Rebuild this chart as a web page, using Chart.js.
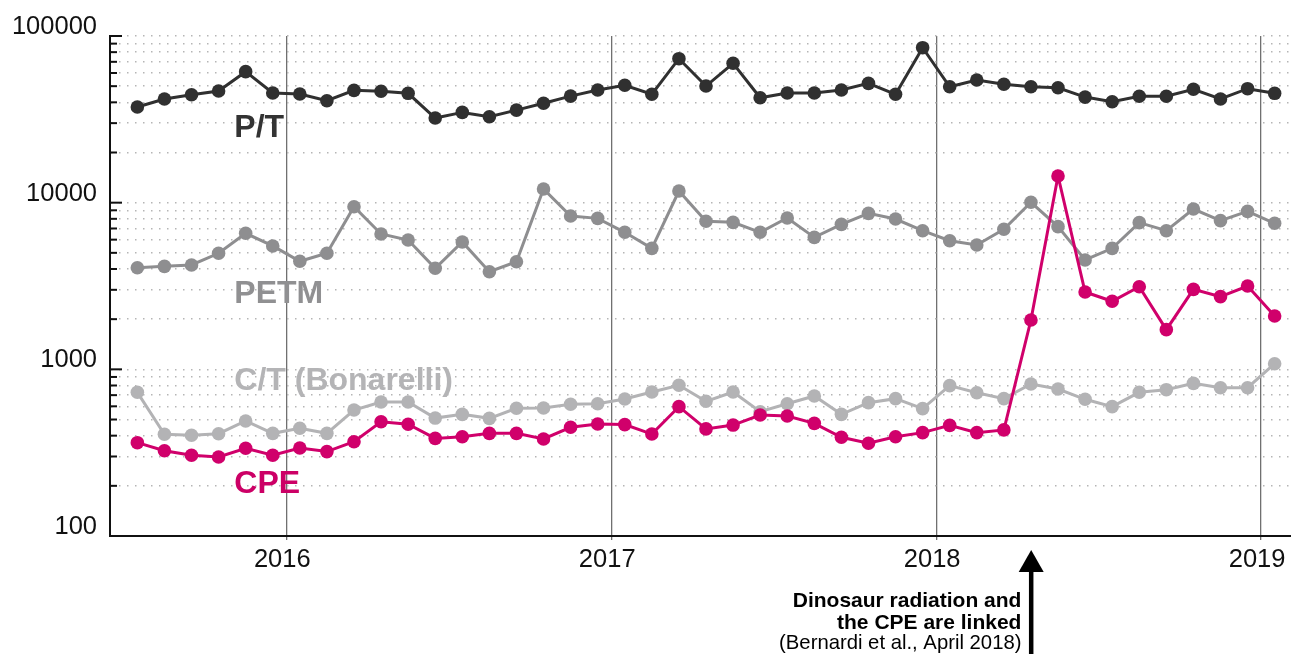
<!DOCTYPE html>
<html>
<head>
<meta charset="utf-8">
<style>
  html, body { margin: 0; padding: 0; background: #ffffff; overflow: hidden; }
  canvas { display: block; }
</style>
<script src="https://cdn.jsdelivr.net/npm/chart.js@4.4.1/dist/chart.umd.min.js"></script>
</head>
<body>
<canvas id="chart" width="1291" height="654"></canvas>
<script>
// Monthly observations, July 2015 - January 2019
const months = [
  '2015-07','2015-08','2015-09','2015-10','2015-11','2015-12',
  '2016-01','2016-02','2016-03','2016-04','2016-05','2016-06',
  '2016-07','2016-08','2016-09','2016-10','2016-11','2016-12',
  '2017-01','2017-02','2017-03','2017-04','2017-05','2017-06',
  '2017-07','2017-08','2017-09','2017-10','2017-11','2017-12',
  '2018-01','2018-02','2018-03','2018-04','2018-05','2018-06',
  '2018-07','2018-08','2018-09','2018-10','2018-11','2018-12',
  '2019-01'
];

const ptValues = [
  37500, 41900, 44400, 46800, 61100, 45500,
  44900, 40900, 47200, 46600, 45300, 32200,
  34800, 32800, 35900, 39500, 43600, 47400,
  50600, 44700, 73100, 50100, 68600, 42600,
  45500, 45500, 47400, 52000, 44700, 85100,
  49600, 54500, 51300, 49600, 48900, 43000,
  40300, 43500, 43500, 47900, 41900, 48300,
  45300
];

const petmValues = [
  4070, 4150, 4230, 4970, 6550, 5500,
  4450, 4970, 9460, 6490, 5970, 4040,
  5810, 3850, 4420, 12080, 8320, 8050,
  6640, 5320, 11750, 7730, 7620, 6640,
  8090, 6190, 7410, 8630, 7980, 6790,
  5910, 5570, 6920, 10050, 7180, 4530,
  5320, 7590, 6790, 9160, 7800, 8870,
  7520
];

const ctValues = [
  728, 408, 402, 411, 490, 413,
  443, 413, 570, 637, 637, 510,
  537, 508, 584, 586, 617, 622,
  664, 731, 802, 643, 731, 557,
  622, 692, 537, 631, 667, 581,
  798, 724, 667, 817, 762, 661,
  597, 728, 755, 824, 776, 776,
  1081
];

const cpeValues = [
  363, 325, 305, 298, 336, 305,
  337, 321, 368, 485, 468, 385,
  394, 413, 413, 382, 449, 470,
  466, 409, 597, 439, 463, 532,
  525, 474, 391, 360, 394, 417,
  461, 417, 433, 1977, 14450, 2910,
  2560, 3130, 1730, 3020, 2730, 3160,
  2090
];

const yearTicks = [2016, 2017, 2018, 2019];
const yearLabels = ['2016', '2017', '2018', '2019'];
const decadeTicks = [100, 1000, 10000, 100000];
const decadeLabels = ['100', '1000', '10000', '100000'];

const eventMonth = '2018-04';
const eventLines = ['Dinosaur radiation and', 'the CPE are linked', '(Bernardi et al., April 2018)'];

const FONT = '"Liberation Sans", Arial, Helvetica, sans-serif';

// month string -> decimal year at the middle of that month
function monthToYear(m) {
  const parts = m.split('-').map(Number);
  return parts[0] + (parts[1] - 0.5) / 12;
}

function toPoints(values) {
  return values.map((v, i) => ({ x: monthToYear(months[i]), y: v }));
}

// log-axis grid values: 1..9 within each decade, plus the top decade
const yGridValues = [];
for (let d = 0; d < decadeTicks.length - 1; d++) {
  for (let k = 1; k <= 9; k++) yGridValues.push(decadeTicks[d] * k);
}
yGridValues.push(decadeTicks[decadeTicks.length - 1]);

const seriesStyle = [
  { name: 'CPE', values: cpeValues, color: '#d0006b', text: '#cc0066', labelX: 2015.84, labelY: 181 },
  { name: 'C/T (Bonarelli)', values: ctValues, color: '#b3b3b5', text: '#b4b4b6', labelX: 2015.84, labelY: 752 },
  { name: 'PETM', values: petmValues, color: '#8e8e90', text: '#909092', labelX: 2015.84, labelY: 2500 },
  { name: 'P/T', values: ptValues, color: '#303030', text: '#333333', labelX: 2015.84, labelY: 24800 }
];

const datasets = seriesStyle.map(s => ({
  label: s.name,
  data: toPoints(s.values),
  borderColor: s.color,
  backgroundColor: s.color,
  pointBackgroundColor: s.color,
  pointBorderColor: s.color,
  pointBorderWidth: 0,
  pointRadius: 6.8,
  borderWidth: 3,
  tension: 0,
  clip: false
}));

// short inner tick marks on the value axis
const innerTicks = {
  id: 'innerTicks',
  afterDraw(chart) {
    const y = chart.scales.y;
    const ctx = chart.ctx;
    const left = chart.chartArea.left;
    ctx.save();
    ctx.strokeStyle = '#111111';
    ctx.lineWidth = 2;
    yGridValues.forEach(v => {
      const py = y.getPixelForValue(v);
      const len = decadeTicks.includes(v) ? 12 : 7;
      ctx.beginPath();
      ctx.moveTo(left, py);
      ctx.lineTo(left + len, py);
      ctx.stroke();
    });
    ctx.restore();
  }
};

// series names written beside their lines
const seriesNames = {
  id: 'seriesNames',
  afterDatasetsDraw(chart) {
    const { ctx, scales: { x, y } } = chart;
    ctx.save();
    ctx.font = 'bold 32px ' + FONT;
    ctx.textAlign = 'left';
    ctx.textBaseline = 'alphabetic';
    seriesStyle.forEach(s => {
      ctx.fillStyle = s.text;
      ctx.fillText(s.name, x.getPixelForValue(s.labelX), y.getPixelForValue(s.labelY));
    });
    ctx.restore();
  }
};

// arrow and note below the time axis
const eventNote = {
  id: 'eventNote',
  afterDraw(chart) {
    const { ctx, scales: { x }, chartArea } = chart;
    const px = x.getPixelForValue(monthToYear(eventMonth));
    const tip = chartArea.bottom + 14;
    ctx.save();
    ctx.fillStyle = '#000000';
    ctx.fillRect(px - 2, tip + 18, 4.5, chart.height - tip);
    ctx.beginPath();
    ctx.moveTo(px + 0.25, tip);
    ctx.lineTo(px + 12.75, tip + 22);
    ctx.lineTo(px - 12.25, tip + 22);
    ctx.closePath();
    ctx.fill();

    ctx.textAlign = 'right';
    ctx.textBaseline = 'alphabetic';
    const tx = px - 9.5;
    ctx.font = 'bold 21px ' + FONT;
    ctx.fillText(eventLines[0], tx, tip + 57);
    ctx.fillText(eventLines[1], tx, tip + 78.5);
    ctx.font = '20.3px ' + FONT;
    ctx.fillText(eventLines[2], tx, tip + 98.5);
    ctx.restore();
  }
};

new Chart(document.getElementById('chart'), {
  type: 'line',
  data: { datasets },
  options: {
    responsive: false,
    animation: false,
    devicePixelRatio: 1,
    layout: { autoPadding: false, padding: { top: 36, right: 0, left: 0, bottom: 0 } },
    plugins: { legend: { display: false }, tooltip: { enabled: false } },
    scales: {
      x: {
        type: 'linear',
        min: 2015.4575,
        max: 2019.092,
        afterBuildTicks: s => { s.ticks = yearTicks.map(v => ({ value: v })); },
        afterFit: s => { s.height = 118; s.paddingLeft = 0; s.paddingRight = 0; },
        grid: { color: '#707070', lineWidth: 1.3, drawTicks: true, tickLength: 4, tickColor: '#707070' },
        border: { color: '#111111', width: 2 },
        ticks: {
          autoSkip: false,
          maxRotation: 0,
          padding: 5,
          labelOffset: -4,
          color: '#111111',
          font: { family: FONT, size: 25.5 },
          callback: v => { const i = yearTicks.indexOf(v); return i >= 0 ? yearLabels[i] : ''; }
        }
      },
      y: {
        type: 'logarithmic',
        min: 100,
        max: 100000,
        afterBuildTicks: s => { s.ticks = yGridValues.map(v => ({ value: v })); },
        afterFit: s => { s.width = 110; s.paddingTop = 0; s.paddingBottom = 0; },
        grid: { color: '#b5b5b5', lineWidth: 1.5, drawTicks: false },
        border: { color: '#111111', width: 2, dash: [1.5, 6.5] },
        ticks: {
          autoSkip: false,
          padding: 13,
          labelOffset: -9,
          color: '#111111',
          font: { family: FONT, size: 25.5 },
          callback: v => { const i = decadeTicks.indexOf(v); return i >= 0 ? decadeLabels[i] : ''; }
        }
      }
    }
  },
  plugins: [innerTicks, seriesNames, eventNote]
});
</script>
</body>
</html>
